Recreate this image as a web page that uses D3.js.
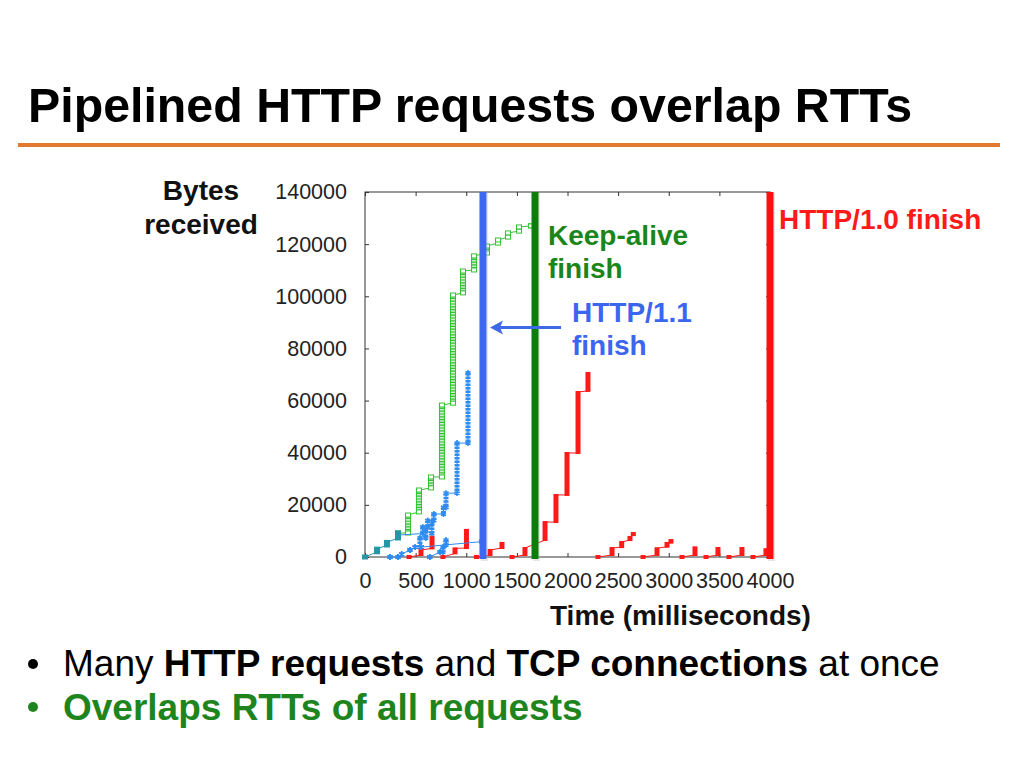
<!DOCTYPE html>
<html><head><meta charset="utf-8">
<script src="https://cdn.jsdelivr.net/npm/d3@7"></script>
<style>
html,body{margin:0;padding:0;background:#fff;}
svg{display:block;font-family:"Liberation Sans",Arial,sans-serif;}
</style></head>
<body>
<svg id="c" width="1024" height="768"></svg>
<script>
// ---------- data ----------
const xTicks = [0,500,1000,1500,2000,2500,3000,3500,4000];
const yTicks = [0,20000,40000,60000,80000,100000,120000,140000];
// bursts: [time ms, bytes at start, bytes at end]
const htmlFetch = [[0,0,0],[119,2000,3000],[217,4600,5600],[326,7300,9200]];
const keepAlive = [[326,9200,9200],[425,9200,16100],[533,17300,25700],[652,26500,30700],[760,30700,58300],
  [869,59000,100500],[968,101300,109700],[1077,110100,115500],[1205,116600,119300],
  [1314,120400,121600],[1412,122700,124300],[1521,125000,126600],[1640,127000,127000]];
const pipelinedMain = [[326,8400,8400],[570,9000,11500],[620,11500,14000],[680,14000,16500],
  [775,16500,19000],[800,19000,24500],[909,24500,43700],[1017,43700,70600]];
const pipelinedSide = [[247,0,0],[326,0,0],[362,1100,1100],[444,2700,2700],[494,3800,3800],
  [543,3800,7300],[600,7300,10000],[660,9000,12700]];
const pipelinedSlow = [[555,3800,3800],[1153,5900,5900]];
const pipelinedLate = [[640,0,0],[741,1900,1900],[770,1900,3800],[800,4600,6500]];
const http10Conns = [
  [[435,0,0],[553,770,2700],[662,3300,7800]],
  [[770,0,0],[889,1400,3300],[1002,3450,10400]],
  [[1101,0,0],[1235,770,2700],[1353,3450,5400]],
  [[1452,0,0],[1580,770,3450],[1778,6500,13400],[1886,13400,23800],[1995,23800,39900],[2104,39900,63300],[2202,63700,70600]],
  [[2301,0,0],[2440,770,3450],[2535,3800,5750],[2617,6500,7700],[2650,8400,9200]],
  [[2746,0,0],[2884,770,3350],[2983,3950,5400],[3022,5500,6500]],
  [[3131,0,0],[3259,770,3700]],
  [[3368,0,0],[3486,770,3450]],
  [[3595,0,0],[3723,770,3450]],
  [[3832,0,0],[3960,770,3000]]
];
const finishTimes = [1165, 1679, 4000]; // HTTP/1.1, Keep-alive, HTTP/1.0
const finishColors = ["#3d69f2", "#0b7d0b", "#ff1010"];

// ---------- setup ----------
const svg = d3.select("#c");
const x = d3.scaleLinear().domain([0,4000]).range([365,770]);
const y = d3.scaleLinear().domain([0,140000]).range([557,192]);

// title
svg.append("text").attr("x",28).attr("y",122).attr("font-size",48).attr("font-weight","bold")
  .attr("fill","#000").attr("textLength",884).attr("lengthAdjust","spacingAndGlyphs")
  .text("Pipelined HTTP requests overlap RTTs");
const defs = svg.append("defs");
const blur = defs.append("filter").attr("id","sh").attr("x","-5%").attr("y","-200%").attr("width","110%").attr("height","500%");
blur.append("feGaussianBlur").attr("stdDeviation",1.5);
svg.append("line").attr("x1",20).attr("x2",1000).attr("y1",148.5).attr("y2",148.5)
  .attr("stroke","#999").attr("stroke-width",3).attr("opacity",0.5).attr("filter","url(#sh)");
svg.append("line").attr("x1",18).attr("x2",1000).attr("y1",145).attr("y2",145)
  .attr("stroke","#e2792f").attr("stroke-width",4);

// frame
const g = svg.append("g");
g.append("rect").attr("x",x(0)).attr("y",y(140000)).attr("width",x(4000)-x(0)).attr("height",y(0)-y(140000))
  .attr("fill","none").attr("stroke","#333").attr("stroke-width",1);

const ax = (sel)=>{sel.select(".domain").remove(); sel.selectAll("line").attr("stroke","#333");
  sel.selectAll("text").attr("fill","#222").attr("font-size",21.5).attr("font-family","Liberation Sans, Arial, sans-serif");};
g.append("g").attr("transform",`translate(${x(0)},0)`).call(d3.axisLeft(y).tickValues(yTicks).tickSize(-4).tickPadding(18).tickFormat(d3.format("d"))).call(ax);
g.append("g").attr("transform",`translate(${x(4000)},0)`).call(d3.axisRight(y).tickValues(yTicks).tickSize(-4).tickFormat("")).call(ax);
g.append("g").attr("transform",`translate(0,${y(0)})`).call(d3.axisBottom(x).tickValues(xTicks).tickSize(-4).tickPadding(16).tickFormat(d3.format("d"))).call(ax);
g.append("g").attr("transform",`translate(0,${y(140000)})`).call(d3.axisTop(x).tickValues(xTicks).tickSize(-4).tickFormat("")).call(ax);

// ---------- series ----------
const pathPts = bursts => { const p=[]; bursts.forEach(b=>{p.push([b[0],b[1]]); if(b[2]!==b[1]) p.push([b[0],b[2]]);}); return p; };
const line = d3.line().x(d=>x(d[0])).y(d=>y(d[1]));

function drawSeries(bursts, style){
  const s = g.append("g");
  s.append("path").attr("d", line(pathPts(bursts))).attr("fill","none")
    .attr("stroke", style.color).attr("stroke-width",1);
  bursts.forEach(b=>{
    const cx = x(b[0]), y0 = y(b[1]), y1 = y(b[2]);
    if (style.kind==="green"){
      if (y0-y1>1){
        s.append("rect").attr("x",cx-2.5).attr("y",y1).attr("width",5).attr("height",y0-y1)
          .attr("fill","#c9f0c9").attr("stroke",style.color).attr("stroke-width",1);
        s.append("line").attr("x1",cx).attr("x2",cx).attr("y1",y1).attr("y2",y0)
          .attr("stroke",style.color).attr("stroke-width",5).attr("stroke-dasharray","1.2 1.6");
      }
      [y0,y1].forEach(yy=>s.append("rect").attr("x",cx-2.5).attr("y",yy-2).attr("width",5).attr("height",4)
        .attr("fill","#fff").attr("stroke",style.color).attr("stroke-width",1));
    } else if (style.kind==="blue"){
      if (y0-y1>1){
        s.append("line").attr("x1",cx).attr("x2",cx).attr("y1",y1).attr("y2",y0)
          .attr("stroke",style.color).attr("stroke-width",5).attr("stroke-dasharray","2.5 1");
      }
      [y0,y1].forEach(yy=>s.append("path").attr("transform",`translate(${cx},${yy})`)
        .attr("d", d3.symbol(d3.symbolAsterisk, 24)()).attr("stroke",style.color).attr("stroke-width",1.6).attr("fill","none"));
    } else if (style.kind==="red"){
      if (y0-y1>1){
        s.append("rect").attr("x",cx-2.5).attr("y",y1-1).attr("width",5).attr("height",y0-y1+2).attr("fill",style.color);
      } else {
        s.append("rect").attr("x",cx-2.5).attr("y",y0-2).attr("width",5).attr("height",4).attr("fill",style.color);
      }
    } else if (style.kind==="teal"){
      s.append("rect").attr("x",cx-3).attr("y",y1-2.5).attr("width",6).attr("height",Math.max(5,y0-y1+5)).attr("fill",style.color);
    }
  });
}

http10Conns.forEach(c=>drawSeries(c,{kind:"red",color:"#ff1a1a"}));
drawSeries(keepAlive,{kind:"green",color:"#33c233"});
drawSeries(pipelinedSlow,{kind:"blue",color:"#2f8cf0"});
drawSeries(pipelinedLate,{kind:"blue",color:"#2f8cf0"});
drawSeries(pipelinedSide,{kind:"blue",color:"#2f8cf0"});
drawSeries(pipelinedMain,{kind:"blue",color:"#2f8cf0"});
drawSeries(htmlFetch,{kind:"teal",color:"#2596a8"});

// finish lines
finishTimes.forEach((t,i)=>{
  g.append("line").attr("x1",x(t)+1.5).attr("x2",x(t)+1.5).attr("y1",y(140000)+1).attr("y2",y(0)+4)
    .attr("stroke","#bbb").attr("stroke-width",7).attr("opacity",0.35);
  g.append("line").attr("x1",x(t)).attr("x2",x(t)).attr("y1",y(140000)).attr("y2",y(0)+2)
    .attr("stroke",finishColors[i]).attr("stroke-width",7);
});

// arrow
svg.append("line").attr("x1",561).attr("x2",500).attr("y1",327.5).attr("y2",327.5)
  .attr("stroke","#3d69e8").attr("stroke-width",3);
svg.append("path").attr("d","M490,327.5 L503,320.5 L500,327.5 L503,334.5 Z").attr("fill","#3d69e8");

// labels
const lab = (txt,xx,yy,col,anchor)=>svg.append("text").attr("x",xx).attr("y",yy).attr("font-size",28)
  .attr("font-weight","bold").attr("fill",col).attr("text-anchor",anchor||"start").text(txt);
lab("Bytes",201,200,"#111","middle");
lab("received",201,234,"#111","middle");
lab("Time (milliseconds)",550,625,"#111");
lab("Keep-alive",548,245,"#1a861a");
lab("finish",548,278,"#1a861a");
lab("HTTP/1.1",572,322,"#3b66ee");
lab("finish",572,355,"#3b66ee");
lab("HTTP/1.0 finish",779,229,"#ff1a1a");

// bullets
svg.append("circle").attr("cx",33).attr("cy",664).attr("r",5).attr("fill","#000");
svg.append("circle").attr("cx",33).attr("cy",707).attr("r",5).attr("fill","#1e851e");
const b1 = svg.append("text").attr("x",63).attr("y",676).attr("font-size",37).attr("fill","#000");
b1.append("tspan").text("Many ");
b1.append("tspan").attr("font-weight","bold").text("HTTP requests");
b1.append("tspan").text(" and ");
b1.append("tspan").attr("font-weight","bold").text("TCP connections");
b1.append("tspan").text(" at once");
svg.append("text").attr("x",63).attr("y",720).attr("font-size",37).attr("fill","#1e851e").attr("font-weight","bold")
  .text("Overlaps RTTs of all requests");
</script>
</body></html>
